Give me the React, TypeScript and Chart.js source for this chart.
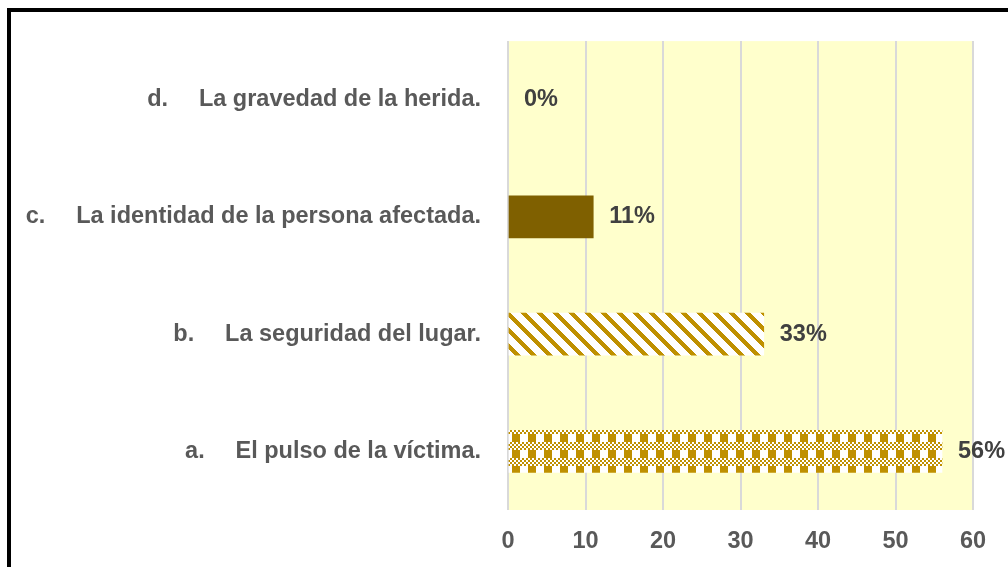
import React, { useEffect, useRef } from "react";
import { Chart, registerables } from "chart.js";

Chart.register(...registerables);

const GAP = "\u00A0\u00A0\u00A0\u00A0\u2009";
const categories = [
  `d.${GAP}La gravedad de la herida.`,
  `c.${GAP}La identidad de la persona afectada.`,
  `b.${GAP}La seguridad del lugar.`,
  `a.${GAP}El pulso de la víctima.`,
];
const values = [0, 11, 33, 56];
const xTicks = [0, 10, 20, 30, 40, 50, 60];

const GOLD = [191, 144, 0];
const FONT = "'Liberation Sans', Arial, sans-serif";
const FONT_SIZE = 23.5;

function makePattern(kind: "stripes" | "plaid"): CanvasPattern | string {
  const size = 16;
  const c = document.createElement("canvas");
  c.width = size;
  c.height = size;
  const ctx = c.getContext("2d");
  if (!ctx) return "#BF9000";
  const img = ctx.createImageData(size, size);
  for (let y = 0; y < size; y++) {
    for (let x = 0; x < size; x++) {
      let on = false;
      if (kind === "stripes") {
        on = (((x - y) % 16) + 16) % 16 < 6;
      } else {
        const px = Math.floor(x / 2);
        const py = Math.floor(y / 2);
        if (py >= 1 && py < 5) on = px < 4;
        else on = (px + py) % 2 === 0;
      }
      const i = (y * size + x) * 4;
      if (on) {
        img.data[i] = GOLD[0];
        img.data[i + 1] = GOLD[1];
        img.data[i + 2] = GOLD[2];
      } else {
        img.data[i] = 255;
        img.data[i + 1] = 255;
        img.data[i + 2] = 255;
      }
      img.data[i + 3] = 255;
    }
  }
  ctx.putImageData(img, 0, 0);
  const p = ctx.createPattern(c, "repeat");
  return p || "#BF9000";
}

const framePlugin = {
  id: "frame",
  beforeDraw(chart: any) {
    const { ctx, chartArea } = chart;
    ctx.save();
    ctx.fillStyle = "#FFFFFF";
    ctx.fillRect(0, 0, chart.width, chart.height);
    ctx.fillStyle = "#000000";
    ctx.fillRect(7, 8, chart.width - 7, 4);
    ctx.fillRect(7, 8, 4, chart.height - 8);
    ctx.fillStyle = "#FFFFCC";
    ctx.fillRect(
      chartArea.left,
      chartArea.top,
      chartArea.right - chartArea.left,
      chartArea.bottom - chartArea.top
    );
    ctx.restore();
  },
};

const labelPlugin = {
  id: "valueLabels",
  afterDatasetsDraw(chart: any) {
    const { ctx } = chart;
    const meta = chart.getDatasetMeta(0);
    ctx.save();
    ctx.font = `bold ${FONT_SIZE}px ${FONT}`;
    ctx.fillStyle = "#404040";
    ctx.textAlign = "left";
    ctx.textBaseline = "middle";
    meta.data.forEach((el: any, i: number) => {
      const v = chart.data.datasets[0].data[i];
      ctx.fillText(`${v}%`, el.x + 16, el.y);
    });
    ctx.restore();
  },
};

export default function App() {
  const ref = useRef<HTMLCanvasElement | null>(null);

  useEffect(() => {
    if (!ref.current) return;
    const stripes = makePattern("stripes");
    const plaid = makePattern("plaid");
    const chart = new Chart(ref.current, {
      type: "bar",
      data: {
        labels: categories,
        datasets: [
          {
            data: values,
            backgroundColor: ["rgba(191,144,0,0)", "#7F6000", stripes, plaid] as any,
            borderWidth: 0,
            barThickness: 42,
          },
        ],
      },
      options: {
        indexAxis: "y",
        responsive: false,
        animation: false,
        devicePixelRatio: 1,
        layout: { padding: { top: 38, right: 35, bottom: 0, left: 0 } },
        plugins: {
          legend: { display: false },
          tooltip: { enabled: false },
        },
        scales: {
          x: {
            min: 0,
            max: 60,
            afterBuildTicks: (axis: any) => {
              axis.ticks = xTicks.map((v) => ({ value: v }));
            },
            afterFit: (axis: any) => {
              axis.height = 57;
            },
            grid: {
              color: "#D9D9D9",
              lineWidth: 2,
              drawTicks: false,
            },
            border: { display: false },
            ticks: {
              padding: 17,
              color: "#595959",
              font: { family: FONT, size: FONT_SIZE, weight: "bold" },
            },
          },
          y: {
            afterFit: (axis: any) => {
              axis.width = 508;
            },
            grid: { display: false, drawTicks: false },
            border: { display: false },
            ticks: {
              padding: 27,
              color: "#595959",
              font: { family: FONT, size: FONT_SIZE, weight: "bold" },
            },
          },
        },
      },
      plugins: [framePlugin, labelPlugin],
    });
    return () => chart.destroy();
  }, []);

  return (
    <div style={{ position: "fixed", left: 0, top: 0, width: 1008, height: 567, overflow: "hidden" }}>
      <canvas ref={ref} width={1008} height={567} style={{ display: "block" }} />
    </div>
  );
}
